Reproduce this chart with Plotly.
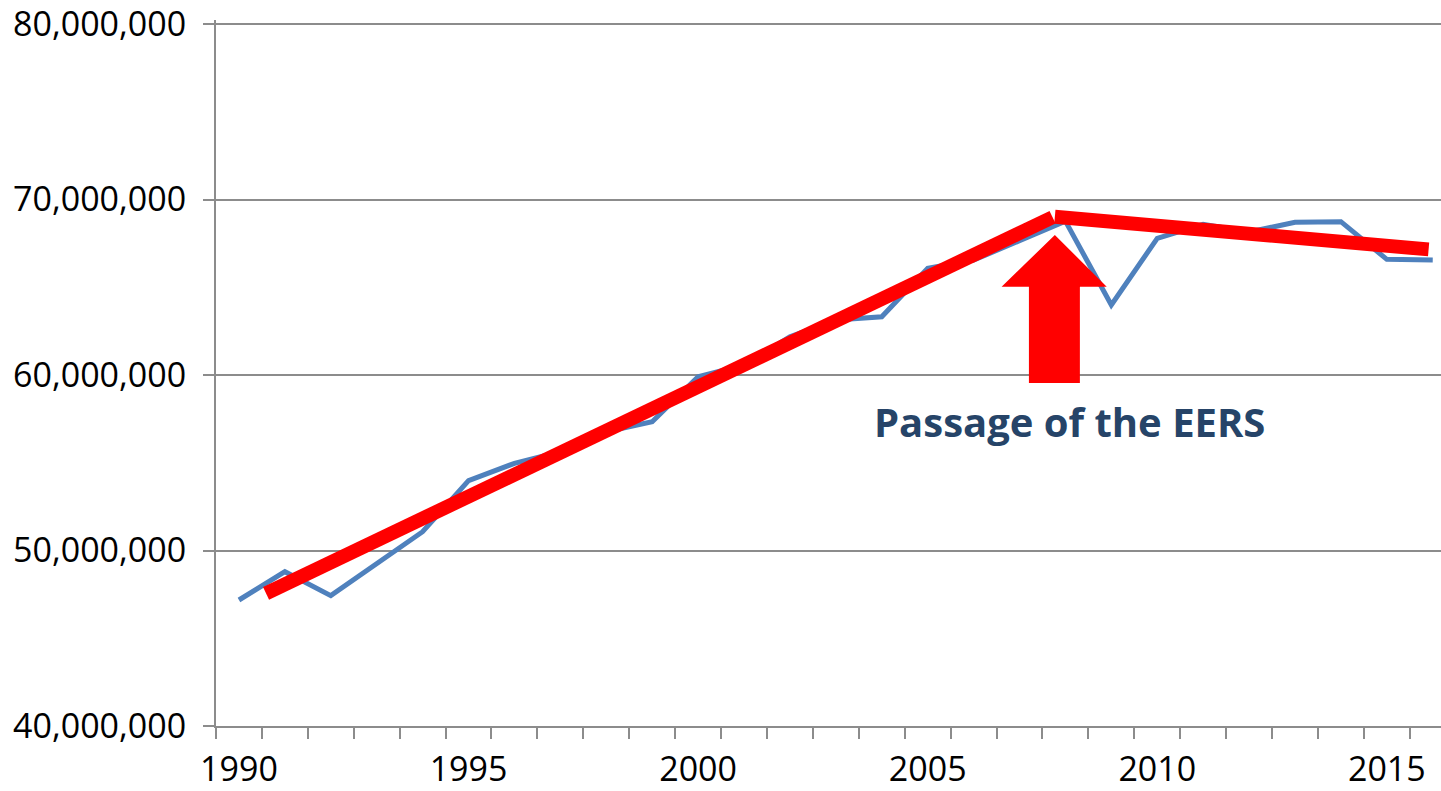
import plotly.graph_objects as go

# Annual totals, 1990-2016
years = list(range(1990, 2017))
sales = [
    47.18e6, 48.79e6, 47.43e6, 49.25e6, 51.07e6, 53.98e6, 54.97e6, 55.63e6,
    56.77e6, 57.34e6, 59.90e6, 60.57e6, 62.18e6, 63.13e6, 63.32e6, 66.08e6,
    66.55e6, 67.65e6, 68.77e6, 63.99e6, 67.79e6, 68.59e6, 68.15e6, 68.70e6,
    68.74e6, 66.59e6, 66.55e6,
]

# Trend segments before and after 2008
trend_pre_x = [1990.59, 2007.72]
trend_pre_y = [47.56e6, 68.99e6]
trend_post_x = [2007.77, 2015.91]
trend_post_y = [69.02e6, 67.16e6]

y_ticks = [40e6, 50e6, 60e6, 70e6, 80e6]
x_ticks = [1990, 1995, 2000, 2005, 2010, 2015]

GRID = "#8c8c8c"
FONT = "Open Sans, Lato, sans-serif"

fig = go.Figure()
fig.add_trace(go.Scatter(
    x=years, y=sales, mode="lines",
    line=dict(color="#4f81bd", width=5),
    showlegend=False, hoverinfo="x+y",
))
for tx, ty in ((trend_pre_x, trend_pre_y), (trend_post_x, trend_post_y)):
    fig.add_trace(go.Scatter(
        x=tx, y=ty, mode="lines",
        line=dict(color="#ff0000", width=14),
        showlegend=False, hoverinfo="skip",
    ))

# Block arrow pointing at 2008
ax_c = 2007.77
arrow = (
    f"M {ax_c - 0.565},{59.54e6} L {ax_c + 0.545},{59.54e6} "
    f"L {ax_c + 0.545},{65.03e6} L {ax_c + 1.13},{65.03e6} "
    f"L {ax_c},{67.98e6} L {ax_c - 1.16},{65.03e6} "
    f"L {ax_c - 0.565},{65.03e6} Z"
)
fig.add_shape(type="path", path=arrow, xref="x", yref="y",
              fillcolor="#ff0000", line=dict(width=0), layer="above")

fig.add_annotation(
    x=2008.08, y=57.35e6, xref="x", yref="y",
    text="Passage of the EERS", showarrow=False,
    font=dict(family=FONT, size=40, color="#264468", weight="bold"),
    xanchor="center", yanchor="middle",
)

fig.update_layout(
    width=1441, height=791,
    margin=dict(l=216, r=0, t=20, b=65),
    paper_bgcolor="white", plot_bgcolor="white",
    font=dict(family=FONT, size=34, color="#000000"),
    xaxis=dict(
        range=[1989.5, 2016.18], automargin=False,
        tickvals=x_ticks, ticktext=[str(v) for v in x_ticks],
        ticks="", showgrid=False, zeroline=False,
        showline=True, linecolor=GRID, linewidth=2,
        ticklabelstandoff=12,
        minor=dict(tick0=1989.5, dtick=1, ticks="outside",
                   ticklen=11, tickwidth=2, tickcolor=GRID, showgrid=False),
    ),
    yaxis=dict(
        range=[40e6, 80.23e6], tickvals=y_ticks, automargin=False,
        tickformat=",.0f",
        ticks="outside", ticklen=11, tickwidth=2, tickcolor=GRID,
        ticklabelstandoff=10, ticklabeloverflow="allow",
        showgrid=True, gridcolor=GRID, gridwidth=2,
        zeroline=False, showline=True, linecolor=GRID, linewidth=2,
    ),
)

fig.write_html("out.html")
